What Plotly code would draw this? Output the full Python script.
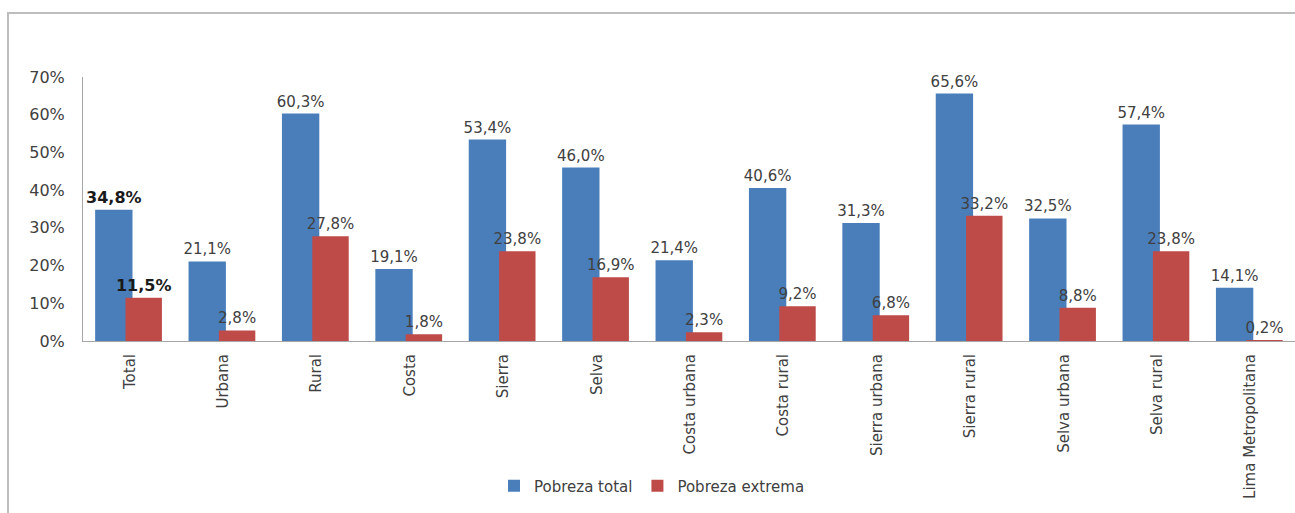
import plotly.graph_objects as go

categories = ["Total", "Urbana", "Rural", "Costa", "Sierra", "Selva", "Costa urbana",
              "Costa rural", "Sierra urbana", "Sierra rural", "Selva urbana", "Selva rural",
              "Lima Metropolitana"]
pobreza_total = [34.8, 21.1, 60.3, 19.1, 53.4, 46.0, 21.4, 40.6, 31.3, 65.6, 32.5, 57.4, 14.1]
pobreza_extrema = [11.5, 2.8, 27.8, 1.8, 23.8, 16.9, 2.3, 9.2, 6.8, 33.2, 8.8, 23.8, 0.2]
y_ticks = [0, 10, 20, 30, 40, 50, 60, 70]
y_tick_labels = ["0%", "10%", "20%", "30%", "40%", "50%", "60%", "70%"]

BLUE = "#4A7EBB"
RED = "#BE4B48"
TXT = "#404040"
FONT = "DejaVu Sans"


def fmt(v, bold=False):
    s = f"{v:.1f}%".replace(".", ",")
    return f"<b>{s}</b>" if bold else s


def labels(vals):
    return [fmt(v, i == 0) for i, v in enumerate(vals)]


def sizes(vals):
    return [16 if i == 0 else 15 for i in range(len(vals))]


def colors(vals):
    return ["#1a1a1a" if i == 0 else TXT for i in range(len(vals))]


xs = list(range(len(categories)))

fig = go.Figure()
fig.add_trace(go.Bar(
    x=xs, y=pobreza_total, name="Pobreza total",
    marker=dict(color=BLUE, line=dict(width=0)),
    offset=-0.37, width=0.4,
    text=labels(pobreza_total), textposition="outside",
    textfont=dict(family=FONT, size=sizes(pobreza_total), color=colors(pobreza_total)),
    constraintext="none", cliponaxis=False,
))
fig.add_trace(go.Bar(
    x=xs, y=pobreza_extrema, name="Pobreza extrema",
    marker=dict(color=RED, line=dict(width=0)),
    offset=-0.045, width=0.39,
    text=labels(pobreza_extrema), textposition="outside",
    textfont=dict(family=FONT, size=sizes(pobreza_extrema), color=colors(pobreza_extrema)),
    constraintext="none", cliponaxis=False,
))

W, H = 1295, 513
L, T, B = 83, 77, 172
plot_w = W - L
plot_h = H - T - B
cat_px = 93.4

fig.update_layout(
    width=W, height=H,
    margin=dict(l=L, r=0, t=T, b=B, pad=0),
    barmode="overlay",
    plot_bgcolor="white", paper_bgcolor="white",
    font=dict(family=FONT, size=15, color=TXT),
    showlegend=True,
    legend=dict(
        orientation="h", x=(494 - L) / plot_w, xanchor="left",
        y=(341 - 486) / plot_h, yanchor="middle",
        font=dict(family=FONT, size=15, color=TXT),
        itemwidth=30,
        traceorder="normal", bgcolor="rgba(0,0,0,0)",
    ),
    xaxis=dict(
        range=[-0.5, -0.5 + plot_w / cat_px],
        tickmode="array", tickvals=xs, ticktext=categories,
        tickangle=-90, showgrid=False, zeroline=False,
        showline=True, linecolor="#A6A6A6", linewidth=1,
        ticks="", ticklabelstandoff=6,
        tickfont=dict(family=FONT, size=15, color=TXT),
    ),
    yaxis=dict(
        range=[0, 70],
        tickmode="array", tickvals=y_ticks, ticktext=y_tick_labels,
        showgrid=False, zeroline=False,
        showline=True, linecolor="#A6A6A6", linewidth=1,
        ticks="", ticklabelstandoff=14,
        tickfont=dict(family=FONT, size=16, color=TXT),
    ),
    shapes=[dict(
        type="rect", xref="paper", yref="paper",
        x0=(8 - L) / plot_w, x1=1.05,
        y0=(341 - 560) / plot_h, y1=(341 - 13) / plot_h,
        line=dict(color="#BDBDBD", width=2), fillcolor="rgba(0,0,0,0)", layer="below",
    )],
)

fig.write_html("out.html")
